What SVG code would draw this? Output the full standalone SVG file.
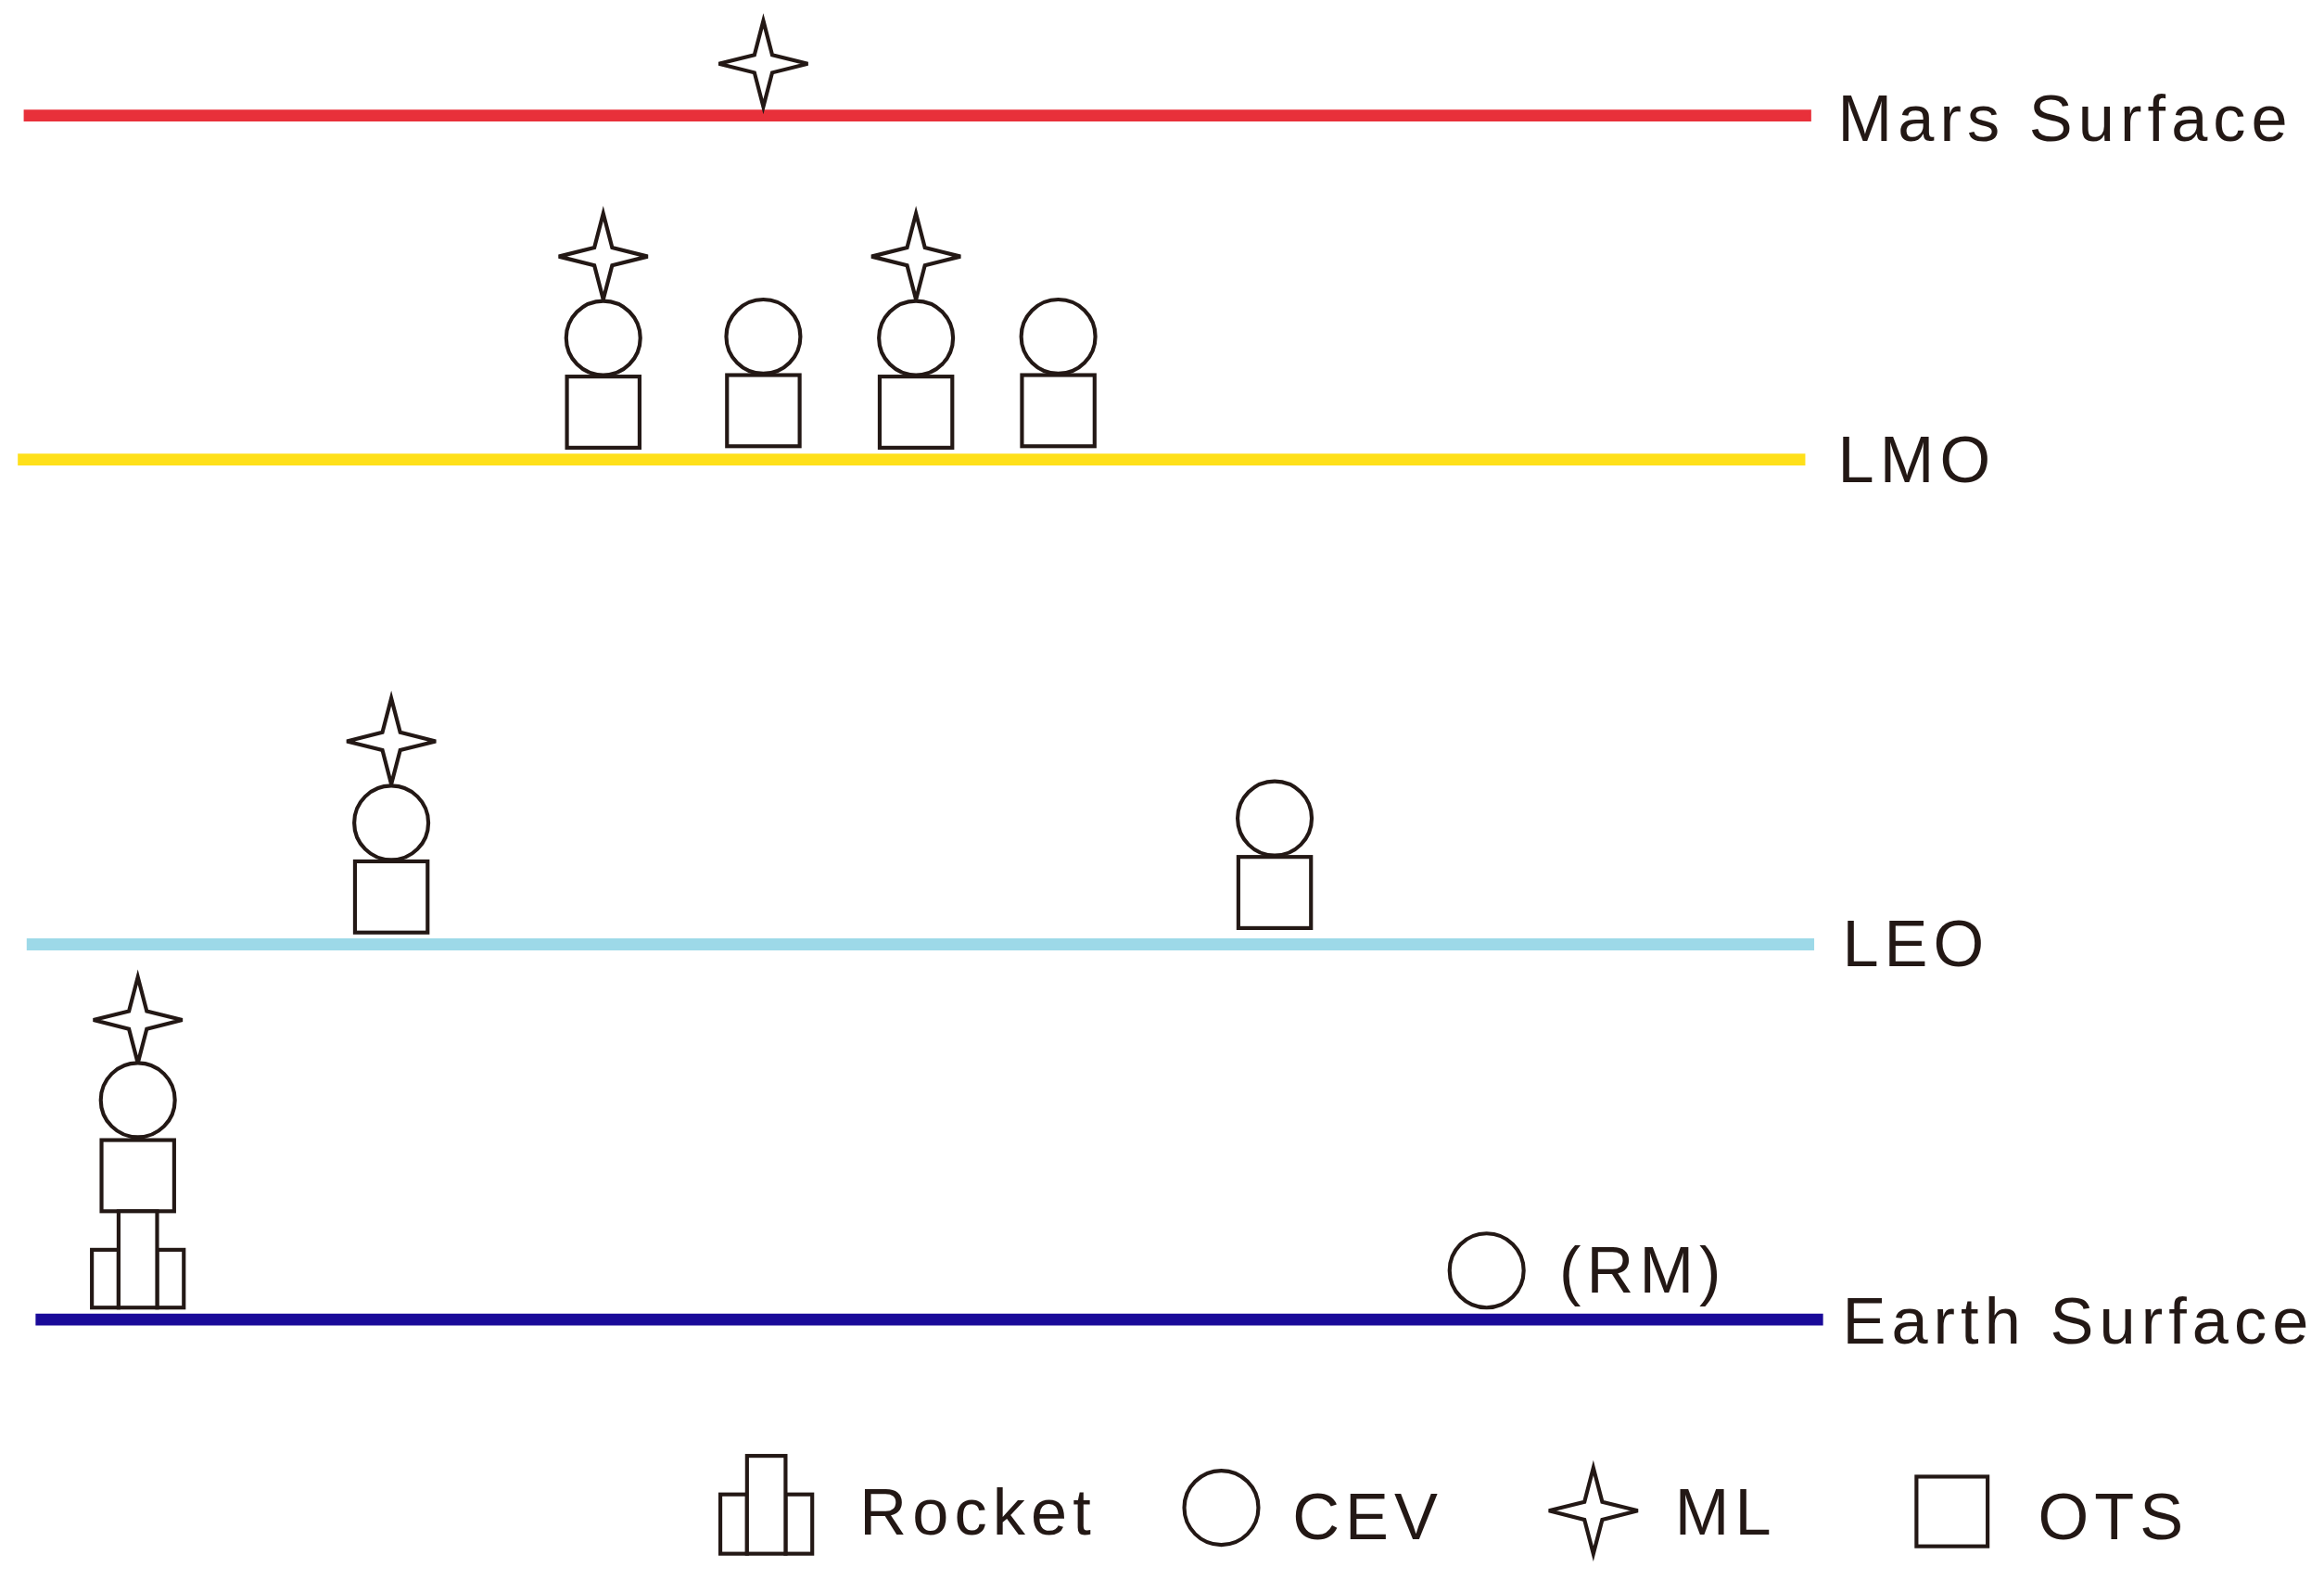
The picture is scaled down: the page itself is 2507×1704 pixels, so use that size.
<svg xmlns="http://www.w3.org/2000/svg" width="2507" height="1704" viewBox="0 0 2507 1704">
<style>
.s{fill:#fff;stroke:#231815;stroke-width:2.6}
.t{font-family:"Liberation Sans",Arial,sans-serif;font-size:44px;fill:#231815;letter-spacing:3.8px}
.ln{stroke-width:8;fill:none}
</style>
<defs>
<path id="star" d="M0,-29 L6,-6 L30,0 L6,6 L0,29 L-6,6 L-30,0 L-6,-6 Z" class="s"/>
<circle id="cev" r="25" class="s"/>
<rect id="ots" x="-24.5" y="0" width="49" height="48" class="s"/>
</defs>
<rect width="2507" height="1704" fill="#fff"/>
<g transform="scale(1.5989)">
<g id="connectors">
<line class="ln" x1="16" y1="78" x2="1222" y2="78" stroke="#e8303a"/>
<line class="ln" x1="12" y1="310" x2="1218" y2="310" stroke="#ffe01a"/>
<line class="ln" x1="18" y1="637" x2="1224" y2="637" stroke="#9dd9e8"/>
<line class="ln" x1="24" y1="890" x2="1230" y2="890" stroke="#1a0a99"/>
</g>
<g id="mars"><use href="#star" x="515" y="43"/><text class="t" x="1240" y="95">Mars Surface</text></g>
<g id="lmo">
<use href="#star" x="407" y="173"/><use href="#cev" x="407" y="228"/><use href="#ots" x="407" y="254"/>
<use href="#cev" x="515" y="227"/><use href="#ots" x="515" y="253"/>
<use href="#star" x="618" y="173"/><use href="#cev" x="618" y="228"/><use href="#ots" x="618" y="254"/>
<use href="#cev" x="714" y="227"/><use href="#ots" x="714" y="253"/>
<text class="t" x="1240" y="325">LMO</text>
</g>
<g id="leo">
<use href="#star" x="264" y="500"/><use href="#cev" x="264" y="555"/><use href="#ots" x="264" y="581"/>
<use href="#cev" x="860" y="552"/><use href="#ots" x="860" y="578"/>
<text class="t" x="1243" y="652">LEO</text>
</g>
<g id="earth">
<use href="#star" x="93" y="688"/><use href="#cev" x="93" y="742"/><use href="#ots" x="93" y="769"/>
<rect class="s" x="62" y="843" width="18" height="39"/><rect class="s" x="106" y="843" width="18" height="39"/><rect class="s" x="80" y="817" width="26" height="65"/>
<use href="#cev" x="1003" y="857"/><text class="t" x="1052" y="872">(RM)</text>
<text class="t" x="1243" y="906">Earth Surface</text>
</g>
<g id="legend">
<rect class="s" x="486" y="1008" width="18" height="40"/><rect class="s" x="530" y="1008" width="18" height="40"/><rect class="s" x="504" y="982" width="26" height="66"/>
<text class="t" x="580" y="1035">Rocket</text>
<use href="#cev" x="824" y="1017"/><text class="t" x="872" y="1038">CEV</text>
<use href="#star" x="1075" y="1019"/><text class="t" x="1130" y="1035">ML</text>
<rect class="s" x="1293" y="996" width="48" height="47"/><text class="t" x="1375" y="1038">OTS</text>
</g>
</g>
</svg>
